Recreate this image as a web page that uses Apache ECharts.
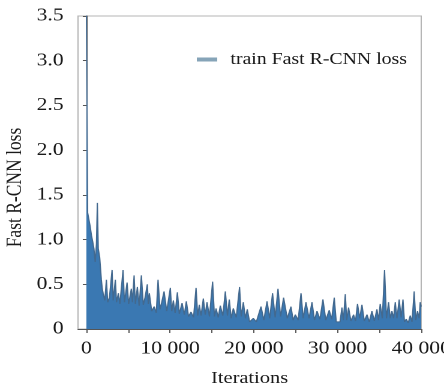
<!DOCTYPE html>
<html>
<head>
<meta charset="utf-8">
<script src="https://cdn.jsdelivr.net/npm/echarts@6/dist/echarts.min.js"></script>
<style>
  html, body {margin: 0; padding: 0; background: #fff; overflow: hidden;}
  /* the source figure is stretched sideways, so draw narrower and widen */
  #chart {width: 370px; height: 390px; transform: scaleX(1.2); transform-origin: 0 0;}
</style>
</head>
<body>
<div id="chart"></div>
<script>
const fontFamily = '"Liberation Serif", "DejaVu Serif", serif'
const textColor = '#1a1a1a'
const lineColor = '#43698f'
const fillColor = '#3a78b2'

const seriesName = 'train Fast R-CNN loss'
const xTicks = [0, 5000, 10000, 15000, 20000, 25000, 30000, 35000, 40000]
const xLabels = [0, 10000, 20000, 30000, 40000]

// iteration / loss pairs (peaks and troughs)
const iters = [
  0, 150, 300, 450, 600, 750, 900, 1050, 1200, 1310, 1420, 1590, 1790, 1900, 2000,
  2200, 2390, 2550, 2750, 3070, 3200, 3460, 3600, 3820, 4000, 4380, 4550, 4860, 5050,
  5370, 5500, 5700, 5850, 6090, 6300, 6570, 6800, 7000, 7280, 7400, 7520, 7800, 8100,
  8350, 8560, 8800, 9000, 9280, 9600, 10030, 10200, 10390, 10600, 10870, 11100, 11430,
  11700, 11940, 12200, 12500, 12800, 13100, 13300, 13490, 13700, 13970, 14200, 14410,
  14700, 15080, 15300, 15490, 15750, 16000, 16300, 16600, 16850, 17070, 17300, 17550,
  17900, 18300, 18500, 18750, 19000, 19220, 19500, 19940, 20300, 20860, 21200, 21580,
  21900, 22240, 22550, 22890, 23200, 23560, 24000, 24440, 24700, 24960, 25300, 25640,
  25900, 26230, 26600, 26950, 27250, 27550, 27900, 28260, 28600, 29010, 29300, 29610,
  29850, 30090, 30300, 30530, 30700, 30930, 31100, 31320, 31600, 31920, 32150, 32390,
  32650, 32920, 33200, 33520, 33800, 34110, 34400, 34710, 34900, 35100, 35350, 35620,
  35850, 36100, 36300, 36500, 36700, 36900, 37100, 37370, 37600, 37820, 38000, 38210,
  38450, 38690, 38900, 39160, 39350, 39560, 39750, 39880, 40000,
]
const losses = [
  3.6, 1.30, 1.28, 1.15, 1.05, 0.98, 0.90, 0.75, 0.95, 1.41, 0.90, 0.80, 0.55, 0.45, 0.40,
  0.32, 0.55, 0.30, 0.35, 0.66, 0.32, 0.55, 0.30, 0.40, 0.28, 0.66, 0.30, 0.52, 0.28,
  0.45, 0.30, 0.60, 0.28, 0.47, 0.26, 0.60, 0.27, 0.35, 0.50, 0.28, 0.40, 0.20, 0.25,
  0.18, 0.55, 0.22, 0.30, 0.42, 0.20, 0.46, 0.20, 0.32, 0.18, 0.41, 0.17, 0.29,
  0.16, 0.31, 0.14, 0.19, 0.13, 0.46, 0.15, 0.27, 0.15, 0.34, 0.16, 0.30,
  0.14, 0.53, 0.14, 0.23, 0.13, 0.26, 0.15, 0.42, 0.15, 0.33, 0.12, 0.23,
  0.13, 0.47, 0.14, 0.30, 0.12, 0.22, 0.08, 0.12, 0.08, 0.25, 0.10, 0.31,
  0.12, 0.40, 0.13, 0.45, 0.14, 0.35, 0.12, 0.25, 0.10, 0.16, 0.10, 0.40,
  0.12, 0.30, 0.12, 0.30, 0.10, 0.20, 0.11, 0.33, 0.10, 0.21, 0.11, 0.35,
  0.08, 0.10, 0.08, 0.24, 0.10, 0.39, 0.10, 0.24, 0.09, 0.16, 0.09, 0.28,
  0.12, 0.27, 0.09, 0.16, 0.08, 0.20, 0.09, 0.22, 0.10, 0.28, 0.12, 0.66,
  0.12, 0.30, 0.12, 0.20, 0.12, 0.30, 0.12, 0.33, 0.13, 0.33, 0.08, 0.11,
  0.07, 0.15, 0.08, 0.42, 0.10, 0.20, 0.12, 0.30, 0.25,
]

const fmtIter = v => (v === 0 ? '0' : String(v).replace(/(\d)(?=(\d{3})+$)/g, '$1 '))

const chart = echarts.init(document.getElementById('chart'), null, {devicePixelRatio: 2})

chart.setOption({
  animation: false,
  backgroundColor: '#fff',
  textStyle: {fontFamily, color: textColor},
  grid: {
    left: 65,
    right: 19,
    top: 16,
    bottom: 61,
    outerBoundsMode: 'none',
    show: true,
    borderColor: '#b5b5b5',
    borderWidth: 1,
  },
  legend: {
    data: [seriesName],
    left: 159,
    top: 46,
    itemWidth: 17,
    itemHeight: 4,
    itemGap: 8,
    icon: 'rect',
    itemStyle: {color: '#86a4b8'},
    textStyle: {fontFamily, fontSize: 16.5, color: textColor, padding: [0, 0, 0, 6]},
  },
  xAxis: {
    type: 'value',
    min: -1000,
    max: 40000,
    name: 'Iterations',
    nameLocation: 'middle',
    nameGap: 41,
    nameTextStyle: {fontFamily, fontSize: 17, color: textColor},
    axisLine: {lineStyle: {color: '#555', width: 1}},
    axisTick: {show: true, length: 4, customValues: xTicks, lineStyle: {color: '#555'}},
    axisLabel: {
      customValues: xLabels,
      formatter: fmtIter,
      fontFamily,
      fontSize: 18,
      color: textColor,
      margin: 11,
    },
    splitLine: {show: false},
  },
  yAxis: {
    type: 'value',
    min: 0,
    max: 3.5,
    interval: 0.5,
    name: 'Fast R-CNN loss',
    nameLocation: 'middle',
    nameGap: 43,
    nameMoveOverlap: false,
    nameTextStyle: {fontFamily, fontSize: 17.5, color: textColor, padding: [0, 30, 0, 0]},
    axisLine: {show: true, lineStyle: {color: '#555', width: 1}},
    axisTick: {show: true, length: 3, lineStyle: {color: '#555'}},
    axisLabel: {
      formatter: v => (v === 0 ? '0' : v.toFixed(1)),
      fontFamily,
      fontSize: 18,
      color: textColor,
      margin: 12,
    },
    splitLine: {show: false},
  },
  series: [{
    name: seriesName,
    type: 'line',
    data: iters.map((it, i) => [it, losses[i]]),
    symbol: 'none',
    clip: true,
    lineStyle: {color: lineColor, width: 1},
    itemStyle: {color: lineColor},
    areaStyle: {color: fillColor, opacity: 1},
  }],
})
</script>
</body>
</html>
